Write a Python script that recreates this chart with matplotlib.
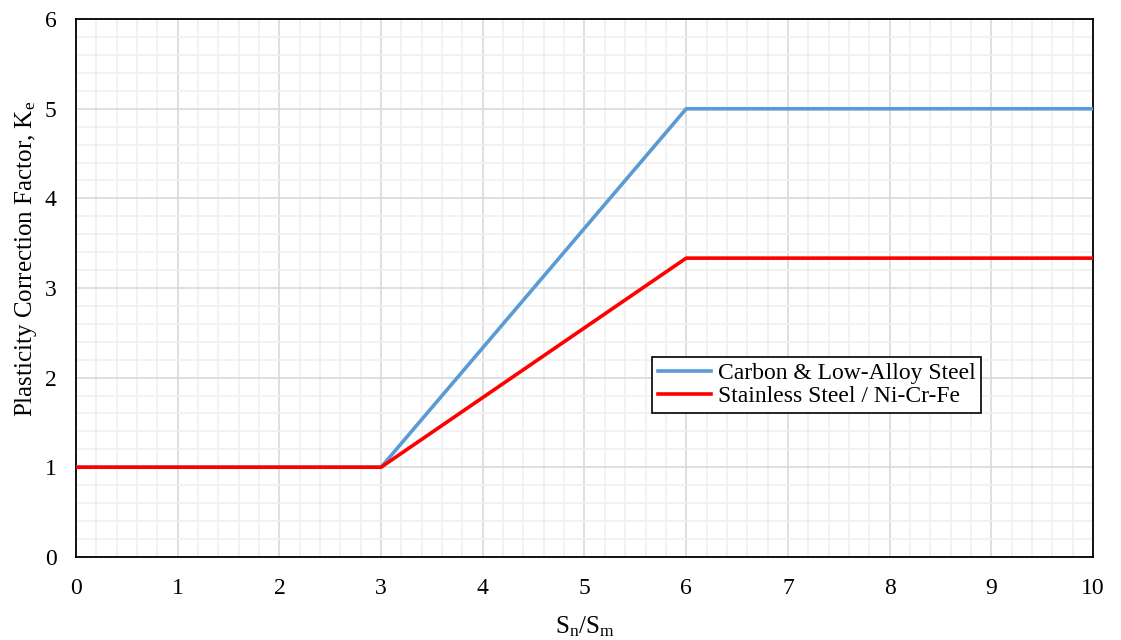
import numpy as np
import matplotlib
matplotlib.use('Agg')
import matplotlib.pyplot as plt
from matplotlib.ticker import MultipleLocator

plt.rcParams['font.family'] = ['Liberation Serif', 'DejaVu Serif']
plt.rcParams['mathtext.fontset'] = 'custom'
plt.rcParams['mathtext.rm'] = 'Liberation Serif'
plt.rcParams['mathtext.it'] = 'Liberation Serif:italic'

# data
ratio = [0, 3, 6, 10]
ke_carbon = [1, 1, 5, 5]
ke_stainless = [1, 1, 10 / 3, 10 / 3]
labels = ['Carbon & Low-Alloy Steel', 'Stainless Steel / Ni-Cr-Fe']

fig = plt.figure(figsize=(11.21, 6.4), dpi=100)
ax = fig.add_axes([0.0678, 0.130, 0.9072, 0.840])

ax.plot(ratio, ke_carbon, color='#5B9BD5', lw=2.6, label=labels[0], zorder=3)
ax.plot(ratio, ke_stainless, color='#FF0000', lw=2.6, label=labels[1], zorder=4)

ax.set_xlim(0, 10)
ax.set_ylim(0, 6)
ax.xaxis.set_major_locator(MultipleLocator(1))
ax.yaxis.set_major_locator(MultipleLocator(1))
ax.xaxis.set_minor_locator(MultipleLocator(0.2))
ax.yaxis.set_minor_locator(MultipleLocator(0.2))
ax.grid(which='major', color='#D9D9D9', lw=1.2)
ax.grid(which='minor', color='#F0F0F0', lw=1.2)
ax.set_axisbelow(True)
ax.tick_params(which='both', length=0, labelsize=17)
ax.tick_params(axis='x', pad=15)
ax.tick_params(axis='y', pad=14)

for s in ax.spines.values():
    s.set_color('black')
    s.set_linewidth(1.3)

ax.set_xlabel(r'S$_\mathrm{n}$/S$_\mathrm{m}$', fontsize=18, labelpad=11)
ax.set_ylabel(r'Plasticity Correction Factor, K$_\mathrm{e}$', fontsize=18)
ax.yaxis.set_label_coords(-0.036, 0.555)

leg = ax.legend(loc='upper left', bbox_to_anchor=(0.566, 0.372), fontsize=17,
                frameon=True, fancybox=False, edgecolor='black', framealpha=1,
                borderpad=0.25, handlelength=2.25, handletextpad=0.3, labelspacing=0.06,
                borderaxespad=0)
leg.get_frame().set_linewidth(1.2)

fig.savefig('out.png', dpi=100)
